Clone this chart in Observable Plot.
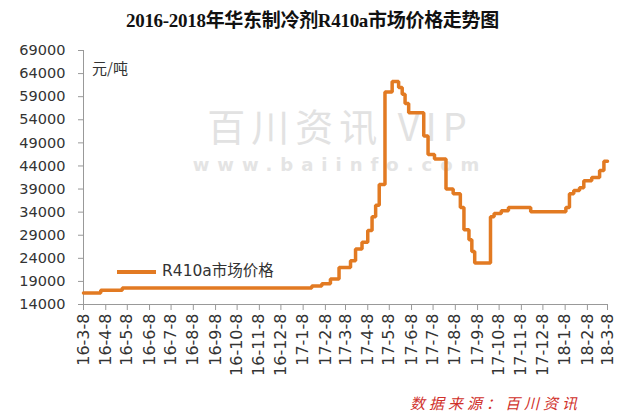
<!DOCTYPE html>
<html>
<head>
<meta charset="utf-8">
<script src="https://cdn.jsdelivr.net/npm/d3@7"></script>
<script src="https://cdn.jsdelivr.net/npm/@observablehq/plot@0.6"></script>
<style>
  html, body { margin: 0; padding: 0; background: #fff; }
  #wrap { position: relative; width: 625px; height: 417px; overflow: hidden; background: #fff; }
  #wrap svg { position: absolute; left: 0; top: 0; }
  .ov { position: absolute; white-space: nowrap; line-height: 1; }
  #title { left: 0; width: 625px; top: 11px; text-align: center; font-family: "Liberation Serif", "Noto Sans CJK SC", serif; font-weight: bold; font-size: 19px; color: #111; letter-spacing: -0.3px; }
  #unit { left: 92px; top: 60px; font-family: "Noto Sans CJK SC", sans-serif; font-size: 15px; color: #333; }
  #wm1 { left: 180px; top: 106px; width: 320px; text-align: center; font-family: "Noto Sans CJK SC", sans-serif; font-size: 38px; color: #e2e2e2; letter-spacing: 6px; }
  #wm2 { left: 180px; top: 156px; width: 320px; text-align: center; font-family: "DejaVu Sans", sans-serif; font-weight: bold; font-size: 18px; color: #e4e4e4; letter-spacing: 8px; }
  #legend { left: 117px; top: 264px; display: flex; align-items: center; font-family: "DejaVu Sans", "Noto Sans CJK SC", sans-serif; font-size: 15.5px; color: #333; }
  #legend .sw { width: 39px; height: 4px; background: #E27A22; margin-right: 6px; }
  #source { left: 410px; top: 395px; font-family: "Noto Sans CJK SC", sans-serif; font-size: 15px; color: #d0302a; letter-spacing: 4px; font-style: italic; }
</style>
</head>
<body>
<div id="wrap">
  <div class="ov" id="wm1">百川资讯 VIP</div>
  <div class="ov" id="wm2">www.baiinfo.com</div>
  <div id="chart"></div>
  <div class="ov" id="title">2016-2018年华东制冷剂R410a市场价格走势图</div>
  <div class="ov" id="unit">元/吨</div>
  <div class="ov" id="legend"><span class="sw"></span><span>R410a市场价格</span></div>
  <div class="ov" id="source">数据来源：百川资讯</div>
</div>
<script>
const dates = [
  "2016-03-08","2016-04-01","2016-05-01","2017-01-20","2017-02-03","2017-02-15",
  "2017-02-27","2017-03-15","2017-03-22","2017-03-31","2017-04-08","2017-04-14",
  "2017-04-19","2017-04-24","2017-05-02","2017-05-12","2017-05-21","2017-05-26",
  "2017-05-30","2017-06-04","2017-06-25","2017-07-01","2017-07-10","2017-07-26",
  "2017-08-05","2017-08-15","2017-08-20","2017-08-27","2017-08-31","2017-09-04",
  "2017-09-26","2017-10-01","2017-10-11","2017-10-21","2017-11-21","2018-01-09",
  "2018-01-14","2018-01-20","2018-01-28","2018-02-03","2018-02-14","2018-02-25",
  "2018-03-03","2018-03-08"
];
const prices = [
  16500,17100,17600,18000,18500,19500,
  22000,23500,26000,27500,30000,33000,
  35500,40000,60000,62300,61000,59500,
  57500,55500,50500,46500,45500,39000,
  38000,35000,30200,28000,25500,23000,
  33000,33700,34300,35000,34100,35000,
  38000,38700,39300,40800,41500,43000,
  45000,45000
];
const yTicks = [14000,19000,24000,29000,34000,39000,44000,49000,54000,59000,64000,69000];
const tickLabels = [
  "16-3-8","16-4-8","16-5-8","16-6-8","16-7-8","16-8-8","16-9-8","16-10-8","16-11-8","16-12-8",
  "17-1-8","17-2-8","17-3-8","17-4-8","17-5-8","17-6-8","17-7-8","17-8-8","17-9-8","17-10-8",
  "17-11-8","17-12-8","18-1-8","18-2-8","18-3-8"
];

const parseTick = s => { const [y, m, d] = s.split("-").map(Number); return new Date(Date.UTC(2000 + y, m - 1, d)); };
const tickDates = tickLabels.map(parseTick);
const data = dates.map((d, i) => ({date: new Date(d + "T00:00:00Z"), price: prices[i]}));
const x0 = tickDates[0], x1 = tickDates[tickDates.length - 1];

const chart = Plot.plot({
  width: 625,
  height: 417,
  marginTop: 50,
  marginBottom: 113,
  marginLeft: 83,
  marginRight: 18,
  style: {fontFamily: "DejaVu Sans, sans-serif", fontSize: "14.5px", color: "#333", background: "transparent"},
  x: {type: "utc", domain: [x0, x1]},
  y: {domain: [14000, 69000]},
  marks: [
    Plot.axisY({ticks: yTicks, tickFormat: d => String(d), tickSize: 5, tickPadding: 13, label: null, stroke: "#999"}),
    Plot.axisX({ticks: tickDates, tickFormat: (d, i) => tickLabels[i], tickRotate: -90, tickSize: 6, tickPadding: 3, label: null, stroke: "#999", fontSize: 16}),
    Plot.ruleX([x0], {stroke: "#999"}),
    Plot.ruleY([14000], {stroke: "#999"}),
    Plot.line(data, {x: "date", y: "price", curve: "step-after", stroke: "#E27A22", strokeWidth: 3.5, strokeLinejoin: "miter"})
  ]
});
document.getElementById("chart").appendChild(chart);
</script>
</body>
</html>
